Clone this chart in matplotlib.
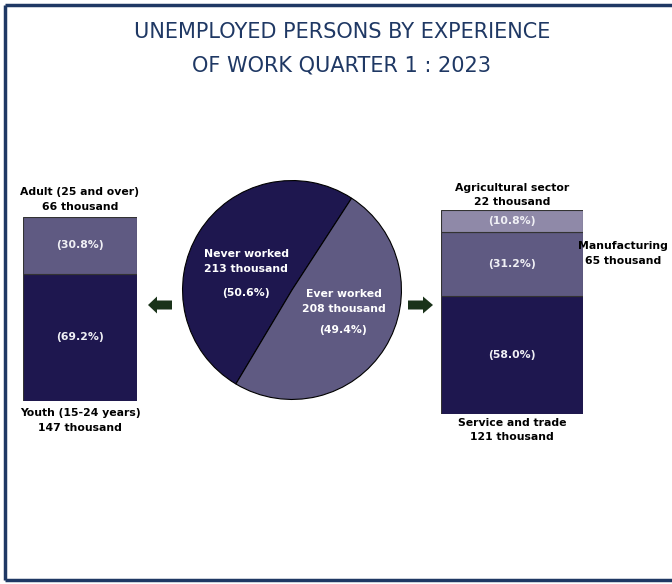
import numpy as np
import matplotlib
matplotlib.use("Agg")
import matplotlib.pyplot as plt
from matplotlib.patches import FancyArrow

# data
pie_labels = ["Never worked", "Ever worked"]
pie_thousand = [213, 208]
pie_pct = [50.6, 49.4]

age_labels = ["Youth (15-24 years)", "Adult (25 and over)"]
age_thousand = [147, 66]
age_pct = [69.2, 30.8]

sector_labels = ["Service and trade", "Manufacturing", "Agricultural sector"]
sector_thousand = [121, 65, 22]
sector_pct = [58.0, 31.2, 10.8]

DARK = "#1e174f"
MID = "#5f5a82"
LIGHT = "#8f89a8"
NAVY = "#1f3864"
GREEN = "#1a331a"
W, H = 672, 584
LBL = dict(fontsize=7.8, fontweight="bold", family="DejaVu Sans")

fig = plt.figure(figsize=(W / 100, H / 100), dpi=100)


def box(x0, y0, x1, y1):
    # pixel box -> figure fraction
    return [x0 / W, 1 - y1 / H, (x1 - x0) / W, (y1 - y0) / H]


# overlay for border, title and arrows
bg = fig.add_axes([0, 0, 1, 1])
bg.set_xlim(0, W)
bg.set_ylim(H, 0)
bg.axis("off")
bg.plot([5, 5], [5, 580], color=NAVY, lw=2.5, solid_capstyle="butt")
bg.plot([5, W], [5, 5], color=NAVY, lw=2.5, solid_capstyle="butt")
bg.plot([5, W], [580, 580], color=NAVY, lw=2.5, solid_capstyle="butt")
bg.text(342, 32, "UNEMPLOYED PERSONS BY EXPERIENCE", ha="center", va="center",
        fontsize=15, color=NAVY)
bg.text(342, 65, "OF WORK QUARTER 1 : 2023", ha="center", va="center",
        fontsize=15, color=NAVY)
bg.add_patch(FancyArrow(172, 305, -24, 0, width=9, head_width=17, head_length=9,
                        length_includes_head=True, color=GREEN, lw=0))
bg.add_patch(FancyArrow(408, 305, 25, 0, width=9, head_width=17, head_length=10,
                        length_includes_head=True, color=GREEN, lw=0))

# pie
pax = fig.add_axes(box(182, 180, 402, 400))
wedges, _ = pax.pie(pie_pct, colors=[DARK, MID], startangle=57, counterclock=True,
                    wedgeprops=dict(edgecolor="black", linewidth=0.8))
pax.set_xlim(-1.005, 1.005)
pax.set_ylim(-1.005, 1.005)
pax.set_aspect("equal")
pie_pos = [(-0.42, 0.33), (0.47, -0.04)]
for (x, y), lab, th, pc in zip(pie_pos, pie_labels, pie_thousand, pie_pct):
    pax.text(x, y, lab, ha="center", va="center", color="white", **LBL)
    pax.text(x, y - 0.135, f"{th} thousand", ha="center", va="center", color="white", **LBL)
    pax.text(x, y - 0.36 if x < 0 else y - 0.33, f"({pc}%)", ha="center", va="center",
             color="white", **LBL)


def stacked(ax, pcts, colors):
    bottom = 0
    for p, c in zip(pcts, colors):
        ax.bar(0, p, bottom=bottom, width=1, color=c, edgecolor="#333333", linewidth=0.8)
        ax.text(0, bottom + p / 2, f"({p:.1f}%)", ha="center", va="center",
                color="#f0f0f5", **LBL)
        bottom += p
    ax.set_xlim(-0.5, 0.5)
    ax.set_ylim(0, 100)
    ax.axis("off")


# left bar: age groups
lax = fig.add_axes(box(23, 217, 137, 401))
stacked(lax, age_pct, [DARK, MID])
lax.text(0, -6.5, age_labels[0], ha="center", va="center", **LBL)
lax.text(0, -14.5, f"{age_thousand[0]} thousand", ha="center", va="center", **LBL)
lax.text(0, 113.5, age_labels[1], ha="center", va="center", **LBL)
lax.text(0, 105.5, f"{age_thousand[1]} thousand", ha="center", va="center", **LBL)

# right bar: sectors
rax = fig.add_axes(box(441, 210, 583, 414))
stacked(rax, sector_pct, [DARK, MID, LIGHT])
rax.text(0, -4.5, sector_labels[0], ha="center", va="center", **LBL)
rax.text(0, -11.5, f"{sector_thousand[0]} thousand", ha="center", va="center", **LBL)
rax.text(0.78, 82.3, sector_labels[1], ha="center", va="center", clip_on=False, **LBL)
rax.text(0.78, 75.0, f"{sector_thousand[1]} thousand", ha="center", va="center", **LBL)
rax.text(0, 110.8, sector_labels[2], ha="center", va="center", **LBL)
rax.text(0, 104.0, f"{sector_thousand[2]} thousand", ha="center", va="center", **LBL)

fig.savefig("out.png", dpi=100)
